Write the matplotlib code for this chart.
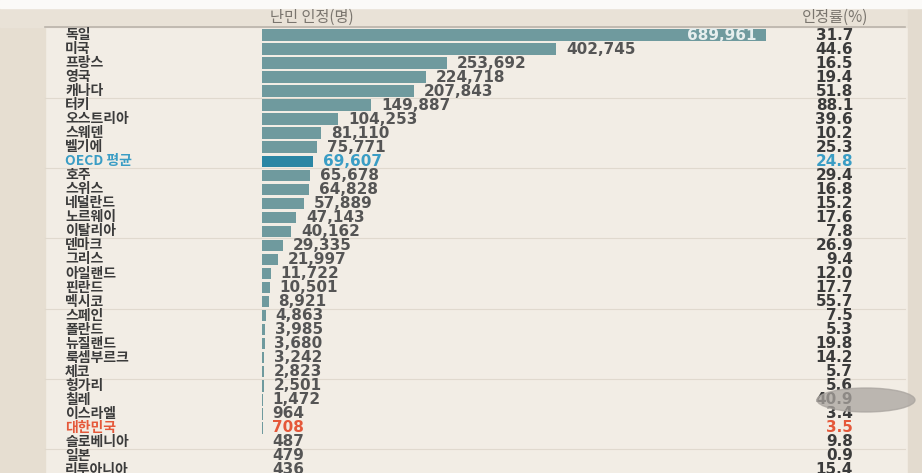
import numpy as np
import matplotlib
matplotlib.use('Agg')
import matplotlib.pyplot as plt
from matplotlib.patches import Rectangle, Ellipse
from matplotlib.transforms import blended_transform_factory

plt.rcParams['font.family'] = ['Noto Sans CJK KR', 'DejaVu Sans']

countries = ['독일', '미국', '프랑스', '영국', '캐나다', '터키', '오스트리아', '스웨덴',
             '벨기에', 'OECD 평균', '호주', '스위스', '네덜란드', '노르웨이', '이탈리아',
             '덴마크', '그리스', '아일랜드', '핀란드', '멕시코', '스페인', '폴란드',
             '뉴질랜드', '룩셈부르크', '체코', '헝가리', '칠레', '이스라엘', '대한민국',
             '슬로베니아', '일본', '리투아니아']
refugees = [689961, 402745, 253692, 224718, 207843, 149887, 104253, 81110,
            75771, 69607, 65678, 64828, 57889, 47143, 40162,
            29335, 21997, 11722, 10501, 8921, 4863, 3985,
            3680, 3242, 2823, 2501, 1472, 964, 708,
            487, 479, 436]
rates = [31.7, 44.6, 16.5, 19.4, 51.8, 88.1, 39.6, 10.2,
         25.3, 24.8, 29.4, 16.8, 15.2, 17.6, 7.8,
         26.9, 9.4, 12.0, 17.7, 55.7, 7.5, 5.3,
         19.8, 14.2, 5.7, 5.6, 40.9, 3.4, 3.5,
         9.8, 0.9, 15.4]
header_count = '난민 인정(명)'
header_rate = '인정률(%)'

W, H = 922, 473
fig = plt.figure(figsize=(W / 100, H / 100), dpi=100)
fig.patch.set_facecolor('#f2ede5')
ax = fig.add_axes([0, 0, 1, 1])
ax.axis('off')

# map pixels: value 0 -> x=262px, max -> x=766px ; row 0 -> y=35px, step 14.03px
scale = max(refugees) / 504.0
ax.set_xlim(-262 * scale, (W - 262) * scale)
step = 14.03
ax.set_ylim((H - 35) / step, -35 / step)

# background bands
ax.add_patch(Rectangle((0, 0), 1, 1, transform=ax.transAxes, color='#f2ede5', zorder=0))
ax.add_patch(Rectangle((0, 0), 45 / W, 1 - 8 / H, transform=ax.transAxes,
                       color='#e6ded1', zorder=0.5))
ax.add_patch(Rectangle((0, 1 - 27 / H), 1, 19 / H, transform=ax.transAxes,
                       color='#e9e2d7', zorder=0.5))
ax.add_patch(Rectangle((908 / W, 0), 14 / W, 1 - 8 / H, transform=ax.transAxes,
                       color='#e3dbcf', zorder=0.5))
ax.add_patch(Rectangle((0, 1 - 8 / H), 1, 8 / H, transform=ax.transAxes,
                       color='#fbfaf8', zorder=0.6))
ax.plot([45 / W, 905 / W], [1 - 27 / H, 1 - 27 / H], transform=ax.transAxes,
        color='#b9b3aa', lw=1.2, zorder=1)

rows = np.arange(len(countries))
oecd = countries.index('OECD 평균')
korea = countries.index('대한민국')

bar_colors = ['#6f9a9e'] * len(countries)
bar_colors[oecd] = '#2b86a4'
ax.barh(rows, refugees, height=0.82, color=bar_colors, zorder=2)

# group separators every 5 rows
for b in range(5, len(countries), 5):
    ax.axhline(b - 0.5, xmin=45 / W, xmax=905 / W, color='#e0d9ce', lw=0.8, zorder=1)

tr = blended_transform_factory(ax.transAxes, ax.transData)
num_font = ['DejaVu Sans']
for i, (c, v, r) in enumerate(zip(countries, refugees, rates)):
    col = '#3b3b3b'
    if i == oecd:
        col = '#3a9dc5'
    elif i == korea:
        col = '#e5583a'
    ax.text(65 / W, i, c, transform=tr, ha='left', va='center', fontsize=10,
            color=col, fontweight='bold')
    vc = '#555555' if col == '#3b3b3b' else col
    label = f'{v:,}'
    if i == 0:
        ax.annotate(label, (v, i), xytext=(-7, 0), textcoords='offset points',
                    ha='right', va='center', fontsize=11, color='#e6eeee',
                    family=num_font, fontweight='bold', zorder=3)
    else:
        ax.annotate(label, (v, i), xytext=(7, 0), textcoords='offset points',
                    ha='left', va='center', fontsize=11, color=vc,
                    family=num_font, fontweight='bold', zorder=3)
    rc = '#3b3b3b' if col == '#3b3b3b' else col
    ax.text(853 / W, i, f'{r:.1f}', transform=tr, ha='right', va='center',
            fontsize=11, color=rc, family=num_font, fontweight='bold', zorder=3)

ax.text(312 / W, 1 - 17 / H, header_count, transform=ax.transAxes, ha='center',
        va='center', fontsize=11, color='#7a756e')
ax.text(835 / W, 1 - 17 / H, header_rate, transform=ax.transAxes, ha='center',
        va='center', fontsize=11, color='#7a756e')

# touch-indicator blob in the photo
ax.add_patch(Ellipse((866 / W, 1 - 400 / H), 98 / W, 24 / H, transform=ax.transAxes,
                     color='#a9a49f', alpha=0.75, zorder=4))

fig.savefig('out.png', dpi=100, facecolor=fig.get_facecolor())
